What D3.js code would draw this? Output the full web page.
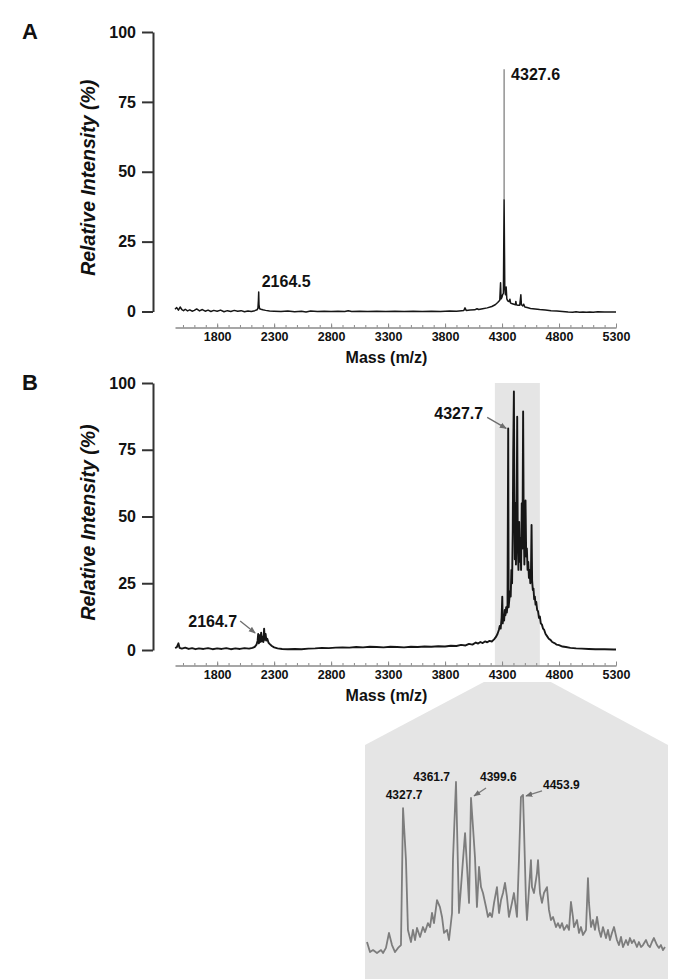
<!DOCTYPE html>
<html><head><meta charset="utf-8">
<script src="https://cdn.jsdelivr.net/npm/d3@7"></script>
<style>
html,body{margin:0;padding:0;background:#fff;}
svg{display:block;font-family:"Liberation Sans",Arial,sans-serif;}
</style></head><body>
<svg id="chart" width="680" height="979"></svg>
<script>
// ---------------- DATA ----------------
const massTicks = [1800, 2300, 2800, 3300, 3800, 4300, 4800, 5300];
const intensityTicks = [0, 25, 50, 75, 100];
const massDomain = [1430, 5300];

// Panel A spectrum: [m/z, relative intensity %]
const spectrumA = [
  [1430,0.8],[1445,1.4],[1460,0.5],[1475,1.6],[1490,0.7],[1505,0.3],[1520,0.8],[1540,0.2],[1560,0.6],[1580,0.1],
  [1600,0.4],[1620,0.9],[1645,0.2],[1670,0.7],[1695,0.1],[1720,0.5],[1745,0.0],[1770,0.4],[1800,0.1],[1830,0.5],
  [1860,-0.1],[1890,0.3],[1920,0.0],[1950,0.4],[1980,0.1],[2010,0.3],[2040,-0.1],[2070,0.2],[2100,0.0],[2130,0.3],
  [2150,0.6],[2158,1.2],[2162,4.0],[2164.5,7.0],[2167,2.5],[2172,1.0],[2185,0.8],[2200,0.6],[2225,0.4],[2260,0.2],
  [2300,0.1],[2360,0.0],[2420,0.2],[2480,-0.1],[2540,0.1],[2580,-0.2],[2620,0.2],[2680,0.0],[2740,0.1],[2800,0.0],
  [2860,0.1],[2920,0.0],[2950,0.3],[2980,0.0],[3050,0.1],[3120,0.0],[3200,0.1],[3280,0.0],[3360,0.1],[3440,0.0],
  [3520,0.1],[3600,0.0],[3680,0.1],[3760,0.0],[3840,0.2],[3900,0.1],[3945,0.3],[3965,0.4],[3975,1.3],[3985,0.4],
  [4020,0.5],[4060,0.6],[4080,1.0],[4095,0.7],[4130,1.0],[4170,1.3],[4210,1.8],[4240,2.4],[4262,3.2],[4280,4.0],
  [4287,10.3],[4291,4.5],[4298,5.0],[4305,6.0],[4312,6.5],[4318,40.0],[4324,8.5],[4330,6.0],[4336,8.8],[4342,4.5],
  [4350,3.8],[4362,3.5],[4369,4.4],[4375,3.0],[4390,2.8],[4405,2.6],[4418,2.4],[4421,3.6],[4426,2.4],[4440,2.2],
  [4455,2.2],[4465,6.0],[4470,2.4],[4482,2.0],[4490,2.6],[4500,1.6],[4520,1.4],[4550,1.1],[4590,0.9],[4630,0.7],
  [4680,0.5],[4730,0.3],[4780,0.2],[4830,0.0],[4880,-0.2],[4920,-0.3],[4950,-0.1],[4980,-0.3],[5010,-0.2],[5040,-0.3],
  [5070,-0.2],[5100,-0.3],[5140,-0.1],[5200,-0.2],[5250,-0.2],[5300,-0.2]
];
// thin grey tip of the main peak in A: [m/z, top intensity]
const spikesA = [[4318, 86.7]];
const peakLabelsA = [["2164.5", 2164.5, 7.0], ["4327.6", 4318, 86.7]];

// Panel B spectrum
const spectrumB = [
  [1430,0.8],[1445,1.0],[1460,2.5],[1470,0.8],[1490,0.5],[1520,0.9],[1550,0.4],[1580,0.7],[1610,0.3],[1640,0.6],
  [1680,0.4],[1720,0.7],[1760,0.3],[1800,0.6],[1840,0.4],[1880,0.7],[1920,0.3],[1960,0.6],[2000,0.4],[2040,0.7],
  [2080,0.5],[2110,0.8],[2130,1.2],[2145,2.0],[2155,3.5],[2160,6.0],[2166,2.5],[2172,5.5],[2178,3.0],[2186,6.5],
  [2193,3.2],[2200,5.0],[2206,3.0],[2212,8.0],[2218,3.8],[2225,6.0],[2232,3.5],[2240,4.2],[2250,2.8],[2262,2.2],
  [2280,1.5],[2300,1.0],[2330,0.6],[2370,0.4],[2420,0.3],[2480,0.4],[2540,0.3],[2600,0.5],[2660,0.6],[2720,0.8],
  [2780,0.7],[2840,0.9],[2900,1.0],[2960,0.9],[3020,1.1],[3080,1.0],[3140,1.2],[3200,1.1],[3260,1.0],[3320,1.2],
  [3380,1.1],[3440,1.0],[3500,1.2],[3560,1.1],[3620,1.3],[3680,1.2],[3740,1.4],[3800,1.3],[3850,1.6],[3900,1.5],
  [3940,1.9],[3980,1.7],[4010,2.3],[4040,2.0],[4070,2.8],[4090,2.4],[4110,3.0],[4130,2.6],[4150,3.2],[4170,2.9],
  [4190,3.4],[4210,3.2],[4230,4.0],[4245,4.8],[4260,6.0],[4272,7.5],[4280,9.0],[4288,8.0],[4296,12.0],[4302,20.0],
  [4306,10.0],[4312,13.0],[4318,11.0],[4324,15.0],[4330,13.0],[4336,16.0],[4342,14.0],[4348,17.0],[4354,83.0],[4358,16.0],
  [4364,19.0],[4370,22.0],[4376,20.0],[4382,30.0],[4388,25.0],[4394,45.0],[4398,74.0],[4404,96.8],[4408,60.0],[4412,34.0],
  [4418,55.0],[4422,32.0],[4428,50.0],[4433,87.4],[4438,40.0],[4444,30.0],[4450,48.0],[4455,33.0],[4461,42.0],[4467,30.0],
  [4473,55.0],[4479,38.0],[4485,89.3],[4490,48.0],[4496,32.0],[4501,45.0],[4506,56.0],[4512,35.0],[4518,38.0],[4524,30.0],
  [4530,33.0],[4536,27.0],[4542,30.0],[4548,25.0],[4554,30.0],[4559,46.8],[4564,26.0],[4570,22.5],[4576,23.0],[4582,19.0],
  [4588,20.0],[4594,17.0],[4600,18.0],[4608,15.0],[4616,14.5],[4624,12.0],[4632,12.5],[4640,10.0],[4650,9.5],[4660,8.0],
  [4670,7.5],[4682,6.0],[4695,5.2],[4710,4.2],[4725,3.8],[4740,3.0],[4760,2.6],[4780,2.0],[4800,1.8],[4830,1.3],
  [4860,1.1],[4900,0.8],[4950,0.6],[5000,0.5],[5060,0.4],[5120,0.3],[5200,0.3],[5280,0.2],[5300,0.2]
];
const peakLabelsB = [["2164.7", 2160, 6.0], ["4327.7", 4354, 83.0]];
const zoomWindowB = [4237, 4632];

// Inset (zoom of the shaded window)
const insetDomain = [4287, 4608];
const spectrumInset = [
  [4289.1,8.9],[4292.3,3.3],[4295.5,4.4],[4299.7,2.8],[4304.0,4.4],[4306.1,2.8],[4309.2,5.6],[4312.4,13.9],[4315.6,7.2],[4318.8,3.3],
  [4322.0,5.6],[4325.1,7.2],[4327.3,83.3],[4330.4,54.4],[4332.5,15.6],[4335.7,8.9],[4337.8,15.6],[4340.0,10.0],[4342.1,16.7],[4345.3,11.7],
  [4348.4,17.2],[4350.6,14.4],[4353.7,19.4],[4355.9,17.2],[4358.0,25.0],[4360.1,19.4],[4363.3,32.2],[4366.4,28.3],[4368.6,22.8],[4370.7,13.9],
  [4373.9,15.6],[4376.0,10.0],[4379.2,25.0],[4380.2,54.4],[4383.4,97.8],[4384.5,72.8],[4386.6,25.0],[4388.7,39.4],[4390.8,54.4],[4393.0,69.4],
  [4395.1,50.6],[4397.2,30.6],[4399.3,88.9],[4401.4,72.8],[4403.5,56.1],[4405.6,28.3],[4407.8,50.6],[4409.9,39.4],[4412.0,36.1],[4415.2,28.3],
  [4417.3,22.8],[4419.4,25.0],[4421.5,22.8],[4423.7,30.6],[4426.8,39.4],[4429.0,25.0],[4431.1,32.2],[4433.2,36.1],[4435.3,41.7],[4437.4,33.9],
  [4439.5,22.8],[4442.7,30.6],[4444.8,36.1],[4448.0,22.8],[4450.1,54.4],[4452.2,89.4],[4454.4,90.6],[4455.4,72.8],[4457.5,32.2],[4458.6,21.1],
  [4460.7,37.8],[4462.8,54.4],[4463.9,39.4],[4466.0,36.1],[4469.2,47.2],[4470.3,54.4],[4472.4,36.1],[4474.5,30.6],[4476.6,36.1],[4479.8,39.4],
  [4481.9,26.7],[4484.0,21.1],[4486.2,22.8],[4489.3,17.2],[4491.4,19.4],[4493.6,16.7],[4495.7,19.4],[4497.8,15.6],[4501.0,18.3],[4503.1,15.6],
  [4505.2,31.1],[4507.3,22.8],[4508.4,17.2],[4511.6,21.1],[4513.7,13.9],[4515.8,17.2],[4517.9,12.8],[4521.1,15.6],[4523.2,44.4],[4524.3,30.6],
  [4526.4,17.2],[4528.5,21.1],[4530.6,15.6],[4532.8,22.8],[4534.9,15.6],[4537.0,11.7],[4539.1,17.2],[4542.3,11.1],[4544.4,15.6],[4546.5,10.0],
  [4548.6,13.9],[4550.8,17.2],[4553.9,10.0],[4556.1,7.2],[4558.2,11.7],[4560.3,6.1],[4563.5,10.0],[4565.6,7.2],[4567.7,11.1],[4569.8,8.3],
  [4572.0,10.0],[4575.1,6.1],[4577.2,8.9],[4579.4,6.1],[4581.5,7.2],[4584.7,10.0],[4586.8,7.2],[4588.9,6.1],[4591.0,8.9],[4593.1,11.1],
  [4596.3,7.2],[4598.4,5.6],[4600.5,7.2],[4602.7,4.4],[4604.8,6.1]
];
const peakLabelsInset = [["4327.7", 4327.3, 83.3], ["4361.7", 4383.4, 97.8], ["4399.6", 4399.3, 88.9], ["4453.9", 4454.4, 90.6]];

const yTitle = "Relative Intensity (%)";
const xTitle = "Mass (m/z)";
const panelNames = ["A", "B"];

// ---------------- DRAWING ----------------
const svg = d3.select("#chart");
const BAND = "#e5e5e5";
const FONT = '"Liberation Sans",Arial,sans-serif';

svg.append("defs").append("marker")
  .attr("id", "arr").attr("viewBox", "0 0 10 10").attr("refX", 9).attr("refY", 5)
  .attr("markerWidth", 7).attr("markerHeight", 7).attr("markerUnits", "userSpaceOnUse")
  .attr("orient", "auto")
  .append("path").attr("d", "M0,1 L10,5 L0,9 Z").attr("fill", "#6e6e6e");

const xA = d3.scaleLinear().domain(massDomain).range([175, 616]);
const yA = d3.scaleLinear().domain([0, 100]).range([311.5, 32]);
const xB = d3.scaleLinear().domain(massDomain).range([175, 616]);
const yB = d3.scaleLinear().domain([0, 100]).range([650, 383]);
const xI = d3.scaleLinear().domain(insetDomain).range([365, 668]);
const yI = d3.scaleLinear().domain([0, 100]).range([958, 778]);

const axisLineA = 327.5, axisLineB = 665.5;

// shaded zoom window in B, connector and inset background
svg.append("rect")
  .attr("x", xB(zoomWindowB[0])).attr("y", yB(100))
  .attr("width", xB(zoomWindowB[1]) - xB(zoomWindowB[0]))
  .attr("height", axisLineB - yB(100))
  .attr("fill", BAND);

const insetTop = 745;
const connTop = 682;
const cx0 = xB(zoomWindowB[0]) - 11, cx1 = xB(zoomWindowB[1]) + 11;
svg.append("path")
  .attr("d", `M${cx0},${connTop} L${cx1},${connTop} L${xI.range()[1]},${insetTop} L${xI.range()[1]},979 L${xI.range()[0]},979 L${xI.range()[0]},${insetTop} Z`)
  .attr("fill", BAND);

function drawPanel(x, y, axisLine, data, name, nameY, lineWidth) {
  const g = svg.append("g");
  // y axis
  const ya = g.append("g").attr("transform", "translate(153,0)")
    .call(d3.axisLeft(y).tickValues(intensityTicks).tickSize(11).tickSizeOuter(0).tickPadding(6));
  ya.select(".domain").attr("stroke", "#333").attr("stroke-width", 2);
  ya.selectAll(".tick line").attr("stroke", "#333").attr("stroke-width", 2);
  ya.selectAll(".tick text").attr("font-size", 16).attr("font-weight", "bold").attr("fill", "#111")
    .attr("font-family", FONT);

  // x axis line + labels
  const xa = g.append("g").attr("transform", `translate(0,${axisLine})`)
    .call(d3.axisBottom(x).tickValues(massTicks).tickFormat(d3.format("d")).tickSize(0).tickSizeOuter(0).tickPadding(5));
  xa.select(".domain").attr("stroke", "#8a8a8a").attr("stroke-width", 1.4);
  xa.selectAll(".tick text").attr("font-size", 12.5).attr("font-weight", "bold").attr("fill", "#111")
    .attr("font-family", FONT);
  // minor ticks
  const minor = g.append("g").attr("transform", `translate(0,${axisLine})`)
    .call(d3.axisTop(x).tickValues(d3.range(1500, 5301, 100)).tickSize(2.5).tickFormat(""));
  minor.select(".domain").remove();
  minor.selectAll(".tick line").attr("stroke", "#8a8a8a").attr("stroke-width", 1);
  const major = g.append("g").attr("transform", `translate(0,${axisLine})`)
    .call(d3.axisTop(x).tickValues(massTicks).tickSize(4).tickFormat(""));
  major.select(".domain").remove();
  major.selectAll(".tick line").attr("stroke", "#8a8a8a").attr("stroke-width", 1);

  // axis titles
  g.append("text").attr("x", (x.range()[0] + x.range()[1]) / 2 - 9).attr("y", axisLine + 35)
    .attr("text-anchor", "middle").attr("font-size", 16).attr("font-weight", "bold").attr("fill", "#111")
    .text(xTitle);
  const ym = (y.range()[0] + y.range()[1]) / 2 + 6;
  g.append("text").attr("transform", `translate(88,${ym}) rotate(-90)`).attr("dy", "0.35em")
    .attr("text-anchor", "middle").attr("font-size", 19.5).attr("font-weight", "bold").attr("font-style", "italic")
    .attr("fill", "#111").text(yTitle);
  g.append("text").attr("x", 22).attr("y", nameY).attr("font-size", 22).attr("font-weight", "bold")
    .attr("fill", "#111").text(name);

  // spectrum
  g.append("path").datum(data)
    .attr("d", d3.line().x(d => x(d[0])).y(d => y(d[1])))
    .attr("fill", "none").attr("stroke", "#161616").attr("stroke-width", lineWidth).attr("stroke-linejoin", "round");
  return g;
}

const gA = drawPanel(xA, yA, axisLineA, spectrumA, panelNames[0], 39, 1.5);
const gB = drawPanel(xB, yB, axisLineB, spectrumB, panelNames[1], 390, 1.9);

// thin grey tip of main A peak
gA.selectAll(".spike").data(spikesA).join("line")
  .attr("x1", d => xA(d[0])).attr("x2", d => xA(d[0]))
  .attr("y1", d => yA(spectrumA.find(p => p[0] === d[0])[1])).attr("y2", d => yA(d[1]))
  .attr("stroke", "#6a6a6a").attr("stroke-width", 1.1);

// A peak labels
const lblA = gA.selectAll(".plA").data(peakLabelsA).join("text")
  .attr("font-size", 16).attr("font-weight", "bold").attr("fill", "#111")
  .text(d => d[0]);
lblA.filter((d, i) => i === 0).attr("x", d => xA(d[1]) + 3).attr("y", d => yA(d[2]) - 5);
lblA.filter((d, i) => i === 1).attr("x", d => xA(d[1]) + 7).attr("y", d => yA(d[2]) + 11);

// B peak labels with arrows
const offsB = [{tx: -21, ty: -7, ax: -18, ay: -13, ex: -3, ey: -1}, {tx: -25, ty: -9, ax: -21, ay: -11, ex: -2, ey: 0}];
peakLabelsB.forEach((d, i) => {
  const px = xB(d[1]), py = yB(d[2]), o = offsB[i];
  gB.append("text").attr("x", px + o.tx).attr("y", py + o.ty).attr("text-anchor", "end")
    .attr("font-size", 16).attr("font-weight", "bold").attr("fill", "#111").text(d[0]);
  gB.append("line").attr("x1", px + o.ax).attr("y1", py + o.ay).attr("x2", px + o.ex).attr("y2", py + o.ey)
    .attr("stroke", "#6e6e6e").attr("stroke-width", 1.3).attr("marker-end", "url(#arr)");
});

// inset spectrum
const gI = svg.append("g");
gI.append("path").datum(spectrumInset)
  .attr("d", d3.line().x(d => xI(d[0])).y(d => yI(d[1])))
  .attr("fill", "none").attr("stroke", "#7d7d7d").attr("stroke-width", 1.8).attr("stroke-linejoin", "round");

const offsI = [
  {tx: 1, ty: -9, anchor: "middle"},
  {tx: -6, ty: -1, anchor: "end"},
  {tx: 9, ty: -17, anchor: "start", ax: 15, ay: -10, ex: 3, ey: -2},
  {tx: 20, ty: -6, anchor: "start", ax: 19, ay: -4, ex: 3, ey: 1}
];
peakLabelsInset.forEach((d, i) => {
  const px = xI(d[1]), py = yI(d[2]), o = offsI[i];
  gI.append("text").attr("x", px + o.tx).attr("y", py + o.ty).attr("text-anchor", o.anchor)
    .attr("font-size", 12).attr("font-weight", "bold").attr("fill", "#111").text(d[0]);
  if (o.ax !== undefined) {
    gI.append("line").attr("x1", px + o.ax).attr("y1", py + o.ay).attr("x2", px + o.ex).attr("y2", py + o.ey)
      .attr("stroke", "#7a7a7a").attr("stroke-width", 1.3).attr("marker-end", "url(#arr)");
  }
});
</script>
</body></html>
